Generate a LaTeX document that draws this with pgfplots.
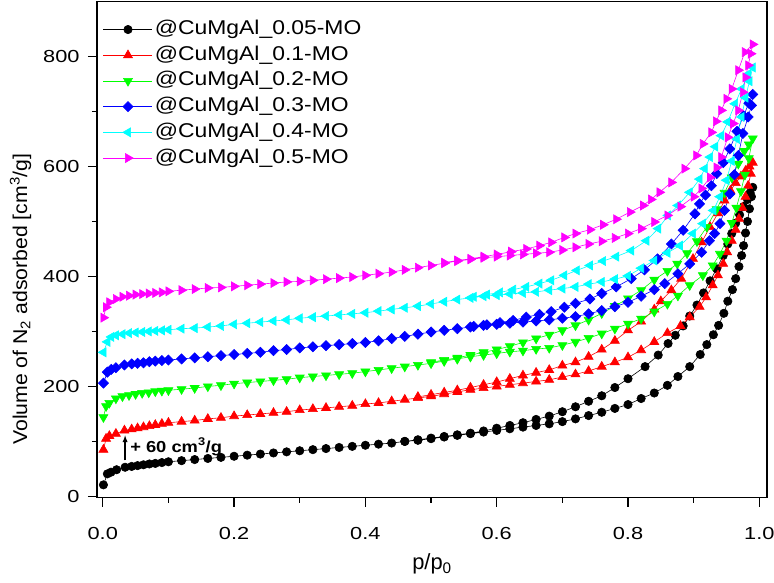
\documentclass[border=0pt]{standalone}
\usepackage{fontspec}
\setmainfont{Liberation Sans}
\usepackage{pgfplots}
\pgfplotsset{compat=1.18}
\definecolor{ored}{RGB}{255,0,0}
\definecolor{ogreen}{RGB}{0,255,0}
\definecolor{oblue}{RGB}{0,0,255}
\definecolor{ocyan}{RGB}{0,255,255}
\definecolor{omag}{RGB}{255,0,255}
\begin{document}
\begin{tikzpicture}
\begin{axis}[
  name=ax,
  scale only axis,
  width=670bp, height=496bp,
  xmin=-0.0088, xmax=1.0117,
  ymin=-2, ymax=900,
  xtick={0,0.2,0.4,0.6,0.8,1},
  xticklabels={0.0,0.2,0.4,0.6,0.8,1.0},
  minor xtick={0.1,0.3,0.5,0.7,0.9},
  ytick={0,200,400,600,800},
  minor ytick={100,300,500,700},
  tick pos=left,
  tick align=outside,
  major tick length=9bp, minor tick length=5bp,
  every tick/.style={black, line width=1.2bp},
  axis line style={line width=1.5bp},
  /pgf/number format/assume math mode=true,
  xticklabel style={yshift=-17bp, xscale=1.25, font=\fontsize{17.5}{19}\selectfont},
  yticklabel style={xshift=-4bp, xscale=1.25, font=\fontsize{17.5}{19}\selectfont},
  xlabel={p/p\textsubscript{0}},
  xlabel style={at={(axis description cs:0.5,0)}, anchor=north, yshift=-53bp, font=\fontsize{22}{24}\selectfont},
  ylabel={Volume of N\textsubscript{2} adsorbed [cm\textsuperscript{3}/g]},
  ylabel style={at={(axis description cs:-0.114,0.40)}, anchor=center, xscale=1.065, font=\fontsize{20}{22}\selectfont},
  legend style={at={(axis description cs:0,1)}, anchor=north west, xshift=6bp, yshift=-15bp,
    draw=none, fill=none, inner sep=0bp, row sep=0bp,
    font=\fontsize{20}{22}\selectfont,
    nodes={text height=14.5bp, text depth=4.5bp, inner ysep=3.35bp}},
  legend cell align=left,
  legend image code/.code={\draw[mark repeat=2,mark phase=2,#1] plot coordinates {(0bp,0bp) (24.5bp,0bp) (49bp,0bp)};},
  every axis plot/.append style={line width=0.6bp},
]
% @CuMgAl_0.05-MO: adsorption then desorption
\addplot[black, mark=*, mark size=4.2bp, mark options={fill=black}] coordinates {
(0.001,21) (0.007,41) (0.0125,44) (0.021,48.5) (0.034,53) (0.044,54.5) (0.053,56) (0.062,57.5) (0.071,59) (0.08,60) (0.09,61.5) (0.10,63)
(0.12,65) (0.14,67) (0.16,69) (0.18,71) (0.20,73) (0.22,75) (0.24,77) (0.26,79) (0.28,81) (0.30,83)
(0.32,85) (0.34,87) (0.36,89) (0.38,91) (0.40,93) (0.42,95) (0.44,97) (0.46,100) (0.48,102) (0.50,105)
(0.52,108) (0.54,111) (0.56,114) (0.58,117) (0.60,120) (0.62,123) (0.64,126) (0.66,129) (0.68,132) (0.70,136)
(0.72,141) (0.74,147) (0.76,153) (0.78,160) (0.80,167) (0.82,178) (0.84,188) (0.86,202) (0.876,218) (0.894,236)
(0.91,258) (0.92,276) (0.93,294) (0.938,311) (0.946,333) (0.952,355) (0.959,376) (0.964,396) (0.969,418) (0.973,438)
(0.976,456) (0.979,479) (0.982,500) (0.985,523) (0.988,545) (0.99,562)
(0.986,552) (0.982,540) (0.976,527) (0.97,512) (0.964,497) (0.958,478) (0.952,459) (0.945,438) (0.935,414) (0.925,392)
(0.915,370) (0.905,348) (0.894,328) (0.884,310) (0.872,293) (0.861,278) (0.846,257) (0.826,236) (0.80,214) (0.78,198)
(0.76,183) (0.74,173) (0.72,163) (0.70,154) (0.68,146) (0.66,140) (0.64,134) (0.62,129) (0.60,124) (0.58,119)
(0.56,115) (0.54,112) (0.52,109) (0.50,106) (0.48,103) (0.46,100)
};
\addlegendentry{\scalebox{1.15}[1]{@CuMgAl\_0.05-MO}}
% @CuMgAl_0.1-MO
\addplot[ored, mark=triangle*, mark size=5.2bp, mark options={fill=ored}] coordinates {
(0.001,85) (0.005,105) (0.01,110) (0.02,114) (0.033,120) (0.044,122) (0.053,124) (0.062,126) (0.071,128) (0.08,130) (0.09,132) (0.10,134)
(0.12,136) (0.14,138) (0.16,141) (0.18,143) (0.20,146) (0.22,148) (0.24,150) (0.26,152) (0.28,154) (0.30,157)
(0.32,159) (0.34,161) (0.36,163) (0.38,165) (0.40,168) (0.42,170) (0.44,173) (0.46,176) (0.48,179) (0.50,182)
(0.52,186) (0.54,190) (0.56,194) (0.58,197) (0.60,200) (0.62,203) (0.64,206) (0.66,209) (0.68,212) (0.70,217)
(0.72,222) (0.74,228) (0.76,236) (0.78,244) (0.80,253) (0.82,266) (0.84,281) (0.86,297) (0.88,310) (0.894,326)
(0.909,345) (0.919,362) (0.929,384) (0.937,402) (0.945,423) (0.951,444) (0.958,465) (0.964,485) (0.969,505) (0.974,525)
(0.979,545) (0.983,565) (0.987,587) (0.99,607)
(0.985,600) (0.979,592) (0.972,582) (0.964,570) (0.956,556) (0.947,538) (0.937,515) (0.925,490) (0.912,462) (0.899,432)
(0.881,396) (0.866,375) (0.85,355) (0.84,340) (0.82,318) (0.80,302) (0.78,283) (0.76,267) (0.74,254) (0.72,244)
(0.70,238) (0.68,230) (0.66,225) (0.64,220) (0.62,214) (0.60,208) (0.58,203) (0.56,198) (0.54,193) (0.52,189)
(0.50,185) (0.48,181)
};
\addlegendentry{\scalebox{1.15}[1]{@CuMgAl\_0.1-MO}}
% @CuMgAl_0.2-MO
\addplot[ogreen, mark=triangle*, mark size=5.2bp, mark options={fill=ogreen, rotate=180}] coordinates {
(0.001,144) (0.005,164) (0.01,170) (0.02,178) (0.03,182) (0.04,184) (0.05,186) (0.06,188) (0.07,189) (0.08,191) (0.09,192) (0.10,193)
(0.12,195) (0.14,197) (0.16,200) (0.18,202) (0.20,205) (0.22,207) (0.24,209) (0.26,211) (0.28,213) (0.30,216)
(0.32,218) (0.34,220) (0.36,222) (0.38,224) (0.40,227) (0.42,230) (0.44,233) (0.46,236) (0.48,239) (0.50,242)
(0.52,246) (0.54,250) (0.56,254) (0.58,257) (0.60,260) (0.62,263) (0.64,265) (0.66,268) (0.68,270) (0.70,275)
(0.72,281) (0.74,288) (0.76,296) (0.78,305) (0.80,314) (0.82,323) (0.84,336) (0.86,350) (0.876,365) (0.894,384)
(0.914,402) (0.929,420) (0.94,441) (0.95,465) (0.958,497) (0.965,525) (0.972,555) (0.978,585) (0.984,615) (0.99,651)
(0.984,640) (0.977,628) (0.968,605) (0.958,580) (0.947,552) (0.935,522) (0.92,490) (0.905,464) (0.89,442) (0.875,423)
(0.86,410) (0.84,394) (0.82,375) (0.80,360) (0.78,346) (0.76,333) (0.74,321) (0.72,311) (0.70,302) (0.68,294)
(0.66,287) (0.64,280) (0.62,273) (0.60,267) (0.58,262) (0.56,257) (0.54,252) (0.52,248) (0.50,244)
};
\addlegendentry{\scalebox{1.15}[1]{@CuMgAl\_0.2-MO}}
% @CuMgAl_0.3-MO
\addplot[oblue, mark=square*, mark size=3.6bp, mark options={fill=oblue, rotate=45}] coordinates {
(0.001,206) (0.007,226) (0.013,231) (0.02,234) (0.033,239) (0.044,241) (0.053,242) (0.062,243) (0.071,245) (0.08,246) (0.09,247) (0.10,248)
(0.12,250) (0.14,252) (0.16,254) (0.18,256) (0.20,258) (0.22,260) (0.24,262) (0.26,265) (0.28,267) (0.30,270)
(0.32,272) (0.34,274) (0.36,276) (0.38,278) (0.40,280) (0.42,283) (0.44,287) (0.46,291) (0.48,295) (0.50,299)
(0.52,302) (0.54,305) (0.56,308) (0.58,311) (0.60,313) (0.62,315) (0.64,317) (0.66,319) (0.68,321) (0.70,324)
(0.72,327) (0.74,332) (0.76,338) (0.78,345) (0.80,353) (0.82,364) (0.84,376) (0.856,387) (0.876,405) (0.894,423)
(0.912,444) (0.924,465) (0.932,478) (0.94,496) (0.947,520) (0.955,550) (0.962,585) (0.968,620) (0.975,660) (0.983,690)
(0.988,711) (0.99,731)
(0.984,715) (0.976,692) (0.966,664) (0.955,632) (0.945,607) (0.935,587) (0.927,565) (0.918,548) (0.909,532) (0.902,514)
(0.884,484) (0.866,459) (0.845,432) (0.825,412) (0.805,396) (0.782,381) (0.76,369) (0.742,359) (0.72,351) (0.703,344)
(0.683,336) (0.665,331) (0.645,326) (0.625,320) (0.605,316) (0.585,312) (0.565,309)
};
\addlegendentry{\scalebox{1.15}[1]{@CuMgAl\_0.3-MO}}
% @CuMgAl_0.4-MO
\addplot[ocyan, mark=triangle*, mark size=5.2bp, mark options={fill=ocyan, rotate=90}] coordinates {
(0.001,262) (0.007,281) (0.013,290) (0.02,293) (0.03,295) (0.04,297) (0.05,298) (0.06,299) (0.07,300) (0.08,301) (0.09,302) (0.10,303)
(0.12,305) (0.14,306) (0.16,308) (0.18,310) (0.20,313) (0.22,315) (0.24,317) (0.26,319) (0.28,321) (0.30,324)
(0.32,326) (0.34,328) (0.36,330) (0.38,332) (0.40,334) (0.42,337) (0.44,340) (0.46,343) (0.48,346) (0.50,350)
(0.52,354) (0.54,358) (0.56,361) (0.58,364) (0.60,366) (0.62,368) (0.64,370) (0.66,372) (0.68,375) (0.70,378)
(0.72,381) (0.74,386) (0.76,390) (0.78,395) (0.80,401) (0.82,415) (0.84,429) (0.86,443) (0.879,456) (0.899,478)
(0.914,496) (0.93,520) (0.94,545) (0.95,575) (0.958,610) (0.966,650) (0.973,690) (0.979,725) (0.985,755) (0.99,780)
(0.983,768) (0.973,741) (0.963,714) (0.952,681) (0.942,656) (0.933,636) (0.925,617) (0.917,596) (0.909,577) (0.894,553)
(0.876,529) (0.861,511) (0.846,487) (0.828,465) (0.805,447) (0.782,436) (0.762,428) (0.742,420) (0.722,411) (0.703,402)
(0.683,393) (0.665,387) (0.645,381) (0.625,376) (0.605,371) (0.585,367) (0.565,363)
};
\addlegendentry{\scalebox{1.15}[1]{@CuMgAl\_0.4-MO}}
% @CuMgAl_0.5-MO
\addplot[omag, mark=triangle*, mark size=5.2bp, mark options={fill=omag, rotate=-90}] coordinates {
(0.001,325) (0.005,344) (0.01,353) (0.02,359) (0.03,363) (0.04,365) (0.05,367) (0.06,368) (0.07,369) (0.08,370) (0.09,371) (0.10,373)
(0.12,375) (0.14,377) (0.16,379) (0.18,380) (0.20,382) (0.22,384) (0.24,386) (0.26,388) (0.28,390) (0.30,391)
(0.32,393) (0.34,395) (0.36,397) (0.38,399) (0.40,402) (0.42,405) (0.44,408) (0.46,412) (0.48,416) (0.50,420)
(0.52,424) (0.54,428) (0.56,431) (0.58,434) (0.60,436) (0.62,438) (0.64,440) (0.66,442) (0.68,444) (0.70,448)
(0.72,453) (0.74,459) (0.76,464) (0.78,470) (0.80,478) (0.82,487) (0.84,499) (0.86,511) (0.88,527) (0.90,545)
(0.912,560) (0.925,580) (0.935,598) (0.942,617) (0.952,653) (0.96,678) (0.968,702) (0.975,735) (0.979,762) (0.983,784)
(0.987,805) (0.99,822)
(0.978,808) (0.968,775) (0.958,741) (0.95,723) (0.942,702) (0.934,682) (0.927,662) (0.914,641) (0.904,620) (0.886,596)
(0.866,571) (0.848,553) (0.835,540) (0.823,529) (0.803,517) (0.782,504) (0.762,494) (0.742,485) (0.72,478) (0.703,471)
(0.683,462) (0.665,456) (0.645,450) (0.622,445) (0.60,440) (0.58,436) (0.56,432) (0.54,429) (0.52,425)
};
\addlegendentry{\scalebox{1.15}[1]{@CuMgAl\_0.5-MO}}
% offset annotation
\draw[-latex, line width=1.3bp] (axis cs:0.034,65.5) -- (axis cs:0.034,111);
\node[anchor=base west, inner sep=0bp, xscale=1.15, font=\bfseries\fontsize{16}{18}\selectfont]
  at (axis cs:0.0415,80.5) {+ 60 cm\textsuperscript{3}/g};
\end{axis}
\pgfresetboundingbox
\path[use as bounding box] ([xshift=-97bp,yshift=-85bp]ax.south west) rectangle ([xshift=7bp,yshift=1.5bp]ax.north east);
\end{tikzpicture}
\end{document}
